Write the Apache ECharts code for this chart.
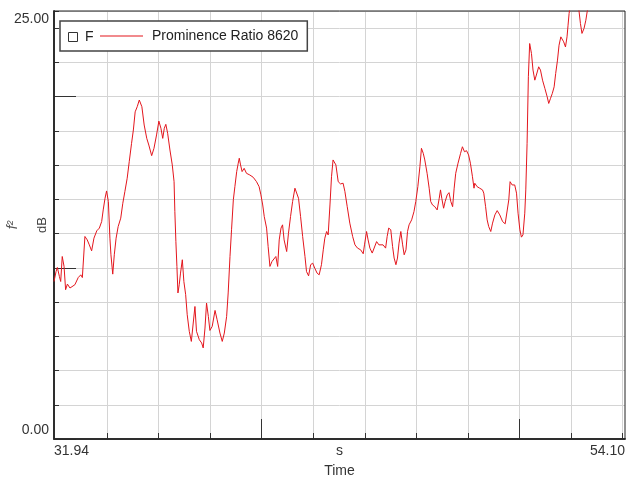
<!DOCTYPE html>
<html><head><meta charset="utf-8">
<script src="https://cdn.jsdelivr.net/npm/echarts@6/dist/echarts.min.js"></script>
<style>html,body{margin:0;padding:0;background:#fff}#c{width:627px;height:483px}</style>
</head><body><div id="c"></div><script>
const times=[31.94,32.02,32.07,32.15,32.20,32.26,32.33,32.39,32.46,32.56,
32.63,32.75,32.88,32.98,33.04,33.14,33.23,33.31,33.40,33.49,
33.60,33.70,33.79,33.85,33.92,33.98,34.05,34.11,34.15,34.22,
34.28,34.35,34.43,34.53,34.61,34.69,34.78,34.86,34.95,35.02,
35.09,35.17,35.25,35.30,35.35,35.44,35.54,35.62,35.73,35.82,
35.92,36.01,36.09,36.16,36.22,36.28,36.35,36.44,36.53,36.60,
36.63,36.67,36.71,36.75,36.80,36.85,36.92,36.98,37.05,37.11,
37.19,37.27,37.41,37.47,37.58,37.67,37.73,37.80,37.86,37.93,
37.99,38.08,38.19,38.27,38.38,38.47,38.55,38.64,38.70,38.77,
38.83,38.90,38.96,39.03,39.09,39.13,39.18,39.24,39.32,39.41,
39.54,39.67,39.80,39.90,39.97,40.04,40.10,40.19,40.25,40.32,
40.40,40.47,40.55,40.62,40.68,40.75,40.81,40.87,40.97,41.04,
41.12,41.20,41.29,41.35,41.43,41.51,41.59,41.68,41.74,41.82,
41.90,41.98,42.06,42.15,42.23,42.32,42.39,42.45,42.52,42.58,
42.65,42.71,42.77,42.84,42.88,42.97,43.06,43.16,43.23,43.32,
43.42,43.53,43.62,43.72,43.84,43.94,43.99,44.07,44.13,44.20,
44.29,44.36,44.46,44.55,44.62,44.71,44.81,44.87,44.93,45.01,
45.08,45.14,45.21,45.27,45.33,45.40,45.47,45.53,45.60,45.66,
45.72,45.82,45.91,45.98,46.06,46.14,46.20,46.27,46.33,46.42,
46.50,46.56,46.63,46.72,46.81,46.89,46.94,46.99,47.06,47.12,
47.20,47.27,47.34,47.41,47.47,47.53,47.62,47.72,47.79,47.87,
47.95,48.03,48.10,48.18,48.24,48.27,48.36,48.46,48.57,48.62,
48.69,48.75,48.81,48.89,48.96,49.05,49.14,49.24,49.35,49.45,
49.52,49.59,49.64,49.72,49.82,49.89,49.95,50.02,50.08,50.14,
50.21,50.25,50.30,50.35,50.40,50.47,50.53,50.60,50.66,50.75,
50.82,50.90,50.99,51.08,51.14,51.21,51.28,51.35,51.41,51.48,
51.54,51.61,51.67,51.72,51.79,51.85,51.89,51.93,52.00,52.15,
52.25,52.32,52.37,52.43,52.51,52.58,52.63,52.75,52.95,53.20,
53.45,53.70,54.00,54.10];
const values=[9.20,9.78,10.02,9.49,9.20,10.66,10.08,8.72,9.05,8.82,
8.78,9.01,9.43,9.59,9.43,11.83,11.63,11.34,10.99,11.73,
12.16,12.32,12.70,13.38,14.06,14.49,13.87,11.73,10.76,9.63,
10.76,11.73,12.41,12.90,13.77,14.45,15.23,16.20,17.27,18.05,
19.11,19.41,19.80,19.90,19.41,18.34,17.56,17.17,16.55,16.98,
17.76,18.57,18.15,17.56,18.15,18.38,17.86,16.88,16.01,15.03,
13.28,11.53,10.08,8.53,9.01,9.69,10.47,9.20,8.43,7.26,
6.29,5.70,7.74,6.29,5.80,5.61,5.32,6.48,7.94,7.16,
6.34,6.58,7.51,6.97,6.19,5.70,6.19,7.16,8.53,10.66,
12.22,13.97,14.74,15.62,16.11,16.40,16.01,15.62,15.81,15.52,
15.42,15.29,15.03,14.74,14.26,13.67,12.99,12.32,11.24,10.08,
10.37,10.47,10.66,10.08,11.63,12.32,12.51,11.63,10.95,12.02,
12.99,13.87,14.65,14.74,14.06,12.99,11.83,10.66,9.78,9.53,
10.18,10.27,9.98,9.69,9.59,10.18,11.05,11.73,12.12,11.92,
13.67,15.32,16.30,16.40,16.01,15.03,14.90,14.94,14.45,13.57,
12.61,11.83,11.34,11.15,11.05,10.82,11.34,12.12,11.63,11.15,
10.86,10.95,11.53,11.34,11.24,11.34,11.15,11.83,12.32,12.22,
11.24,10.57,10.18,10.57,11.44,12.12,11.34,10.76,11.05,12.12,
12.51,12.80,13.28,13.87,14.74,15.91,16.98,16.69,16.30,15.52,
14.65,13.87,13.67,13.57,13.38,14.06,14.55,14.06,13.48,13.87,
14.26,14.39,13.87,13.57,14.65,15.52,16.11,16.69,17.07,16.78,
16.84,16.59,16.11,15.32,14.65,14.94,14.74,14.65,14.55,14.36,
13.57,12.80,12.41,12.12,12.61,13.09,13.34,13.09,12.70,12.57,
12.61,13.97,15.03,14.84,14.84,14.36,13.19,12.22,11.79,11.92,
13.19,14.55,17.27,21.16,23.10,22.52,21.55,20.96,21.26,21.74,
21.55,20.96,20.48,19.99,19.60,19.90,20.19,20.57,21.35,22.13,
23.00,23.49,23.59,23.20,22.90,23.49,24.17,24.85,25.60,26.10,
25.80,24.94,24.27,23.69,23.98,24.46,24.94,25.70,26.30,26.00,
26.60,26.20,26.50,26.40];
const xMin=31.94, xMax=54.10, yMin=0, yMax=25;
const xGridValues=[34,36,38,40,42,44,46,48,50,52,54];
const xMajorTicks=[40,50];
const yMajorTicks=[0,10,20];
const xLabelValues=[31.94,43.02,54.10];
const xLabelTexts=['31.94','s','54.10'];
const yLabelValues=[0,25];
const yLabelTexts=['0.00','25.00'];
const seriesName='Prominence Ratio 8620';
const checkName='F';

const FF='"Liberation Sans", Arial, sans-serif';
const LBL=14;
function textW(s,size){const c=document.createElement('canvas').getContext('2d');c.font=size+'px "Liberation Sans"';return c.measureText(s).width;}
const wl=textW(xLabelTexts[0],LBL), wr=textW(xLabelTexts[2],LBL);
const baseTxt={fontSize:LBL,fontFamily:FF,color:'#333'};

const chart=echarts.init(document.getElementById('c'),null,{renderer:'canvas'});
const G={left:54,top:11,width:571,height:428,containLabel:false,outerBoundsMode:'none'};
chart.setOption({
  animation:false,
  backgroundColor:'#fff',
  grid:[Object.assign({show:true,borderColor:'#222',borderWidth:1,z:3,backgroundColor:'transparent'},G),
        Object.assign({show:false},G)],
  legend:{left:60,top:21,data:[{name:seriesName,icon:'path://M0,0L40,0L40,1L0,1Z'}],backgroundColor:'#fff',borderColor:'#444',borderWidth:1.5,
    padding:[8,9,8,40],itemWidth:43,itemHeight:14,selectedMode:false,
    textStyle:{fontSize:14,fontFamily:FF,color:'#222',padding:[0,0,0,4]}},
  graphic:[
    {type:'rect',z:100,shape:{x:68.5,y:32.5,width:9,height:9},style:{fill:'#fff',stroke:'#333',lineWidth:1}},
    {type:'text',z:100,style:{text:checkName,x:85,y:37,verticalAlign:'middle',font:'14px "Liberation Sans"',fill:'#222'}}
  ],
  xAxis:[{
    gridIndex:0,type:'value',min:xMin,max:xMax,
    axisLine:{show:true,onZero:false,lineStyle:{color:'#3a3a3a',width:2}},
    axisTick:{show:true,inside:true,length:6,customValues:xGridValues,lineStyle:{color:'#333'}},
    splitLine:{show:true,lineStyle:{color:'#d4d4d4',width:1}},
    axisLabel:{customValues:xLabelValues,margin:5,fontSize:LBL,fontFamily:FF,color:'#333',
      formatter:function(v){const i=xLabelValues.findIndex(a=>Math.abs(a-v)<1e-6);
        if(i===0)return '{l|'+xLabelTexts[0]+'}'; if(i===2)return '{r|'+xLabelTexts[2]+'}'; return '{m|'+xLabelTexts[1]+'}';},
      rich:{l:Object.assign({padding:[0,0,0,wl]},baseTxt),r:Object.assign({padding:[0,wr,0,0]},baseTxt),m:Object.assign({},baseTxt)}},
    name:'Time',nameLocation:'middle',nameGap:25,nameMoveOverlap:false,nameTextStyle:{fontSize:14,fontFamily:FF,color:'#333'}
  },{
    gridIndex:1,type:'value',min:xMin,max:xMax,position:'bottom',
    axisLine:{show:false},axisLabel:{show:false},splitLine:{show:false},
    axisTick:{show:true,inside:true,length:20,customValues:xMajorTicks,lineStyle:{color:'#333',width:1}}
  }],
  yAxis:[{
    gridIndex:0,type:'value',min:yMin,max:yMax,interval:2,
    axisLine:{show:true,onZero:false,lineStyle:{color:'#3a3a3a',width:2}},
    axisTick:{show:true,inside:true,length:5,lineStyle:{color:'#333'}},
    splitLine:{show:true,lineStyle:{color:'#d4d4d4',width:1}},
    axisLabel:{customValues:yLabelValues,margin:5,fontSize:LBL,fontFamily:FF,color:'#333',
      formatter:function(v){return v>=yMax-1e-6?'{t|'+yLabelTexts[1]+'}':'{b|'+yLabelTexts[0]+'}';},
      rich:{t:Object.assign({padding:[17,0,0,0]},baseTxt),b:Object.assign({padding:[0,0,17,0]},baseTxt)}},
    name:'dB',nameLocation:'middle',nameGap:5,nameMoveOverlap:false,nameTextStyle:{fontSize:13,fontFamily:FF,color:'#444'}
  },{
    gridIndex:1,type:'value',min:yMin,max:yMax,position:'left',
    axisLine:{show:false},axisLabel:{show:false},splitLine:{show:false},
    axisTick:{show:true,inside:true,length:22,customValues:yMajorTicks,lineStyle:{color:'#333',width:1}},
    name:'f²',nameLocation:'middle',nameGap:34,nameMoveOverlap:false,nameTextStyle:{fontSize:14,fontStyle:'italic',fontFamily:FF,color:'#555'}
  }],
  series:[{
    name:seriesName,type:'line',xAxisIndex:0,yAxisIndex:0,symbol:'none',clip:true,
    color:'#e3161d',lineStyle:{color:'#e3161d',width:1},
    data:times.map((t,i)=>[t,values[i]])
  }]
});
</script></body></html>
